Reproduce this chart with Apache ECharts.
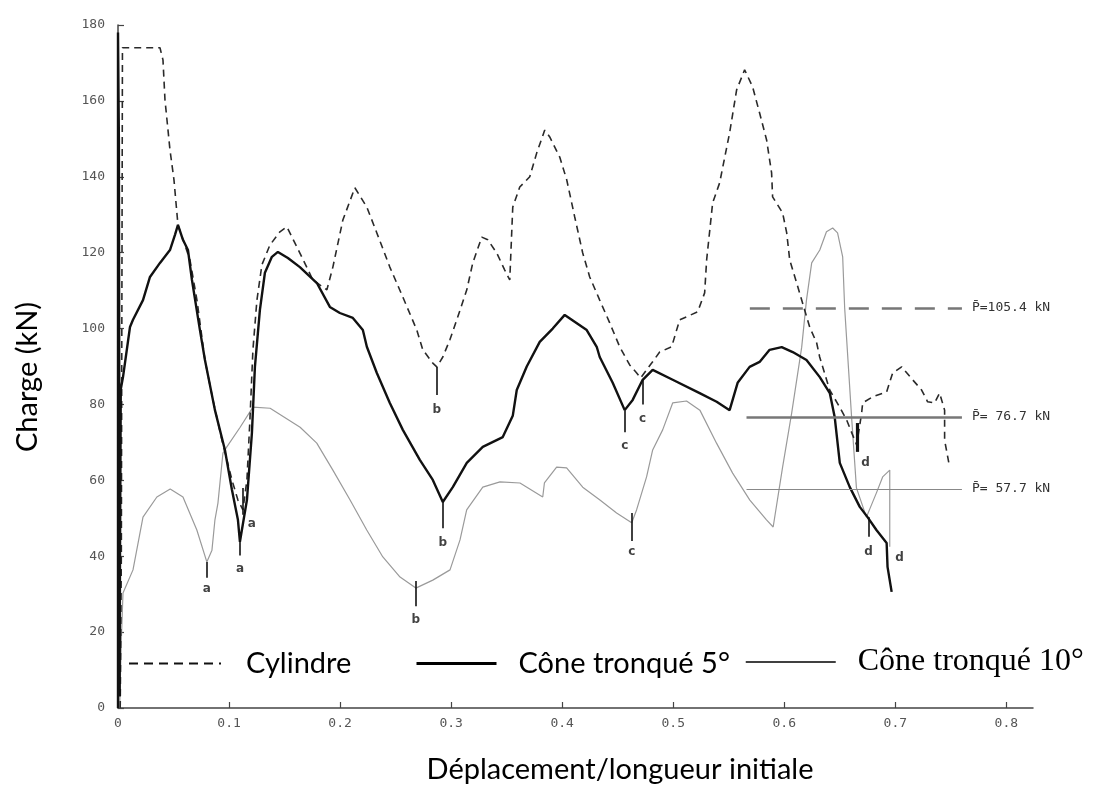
<!DOCTYPE html>
<html>
<head>
<meta charset="utf-8">
<script src="https://cdn.jsdelivr.net/npm/echarts@6/dist/echarts.min.js"></script>
<style>
  html, body { margin: 0; padding: 0; background: #fff; }
  #chart { width: 1099px; height: 785px; }
</style>
</head>
<body>
<div id="chart"></div>
<script>
// Charge en fonction du déplacement relatif pour trois géométries de tube
const seriesNames = ['Cylindre', 'Cône tronqué 5°', 'Cône tronqué 10°'];
const xTicks = [0, 0.1, 0.2, 0.3, 0.4, 0.5, 0.6, 0.7, 0.8];
const yMax = 180;
const yStep = 20;

// [déplacement/longueur initiale, charge kN]
const cylindre = [
  [0.002, 0], [0.003, 40], [0.004, 174], [0.0378, 174], [0.0405, 170.8], [0.0423, 160.3],
  [0.0468, 147.1], [0.0504, 139.2], [0.054, 127.3], [0.0648, 118.1], [0.0711, 107.5],
  [0.0783, 91.7], [0.0855, 81.2], [0.0936, 70.6], [0.1026, 60.1], [0.108, 54.8],
  [0.1125, 52.2], [0.1161, 60.1], [0.1188, 75.9], [0.1215, 94.4], [0.1251, 107.5],
  [0.1296, 116.8], [0.1368, 122], [0.1458, 125.5], [0.1521, 126.8], [0.1638, 119.9],
  [0.1755, 112.8], [0.1881, 110.2], [0.1935, 116.2], [0.2025, 128.6], [0.2133, 137.1],
  [0.2241, 132], [0.2331, 125.2], [0.2448, 116.2], [0.2565, 108.3], [0.2691, 99.6],
  [0.2745, 94.4], [0.2835, 90.9], [0.2871, 89.9], [0.2925, 92.5], [0.2988, 97],
  [0.3051, 102.3], [0.3141, 110.2], [0.3195, 117.3], [0.3276, 124.1], [0.333, 123.4],
  [0.3411, 119.9], [0.3483, 115.4], [0.3528, 112.8], [0.3555, 132], [0.3618, 137.3],
  [0.3708, 140], [0.3771, 146.3], [0.3843, 152.3], [0.3888, 150.5], [0.3978, 145.2],
  [0.4041, 139.2], [0.4113, 129.4], [0.4185, 119.9], [0.4248, 113.6], [0.4338, 107.5],
  [0.4428, 101.5], [0.4518, 95.2], [0.4608, 90.4], [0.4671, 88.3], [0.4707, 87],
  [0.4806, 90.9], [0.4878, 93.8], [0.4986, 95.2], [0.5058, 102.3], [0.522, 104.4],
  [0.5283, 109.4], [0.5301, 118.1], [0.5355, 133.1], [0.5418, 138.4], [0.5508, 151.6],
  [0.5571, 162.9], [0.5643, 168.2], [0.5715, 163.7], [0.5778, 156.8], [0.5841, 149.7],
  [0.5886, 141], [0.5895, 134.7], [0.5985, 130.5], [0.6022, 125.2], [0.6049, 118.1],
  [0.6112, 112], [0.6157, 107.5], [0.6229, 100.4], [0.6292, 96.2], [0.6319, 92.5],
  [0.6409, 83.8], [0.6499, 79.3], [0.6562, 75.9], [0.6652, 69.3], [0.6697, 77.8],
  [0.6706, 80.4], [0.6796, 82], [0.6922, 83.3], [0.6976, 88.3], [0.7057, 89.9],
  [0.7156, 86.5], [0.7237, 83.8], [0.7291, 80.7], [0.7354, 80.4], [0.7399, 83],
  [0.7444, 78.5], [0.7444, 70.6], [0.7489, 63.5]
];

const cone5 = [
  [0, 0], [0, 178], [0.0008, 150], [0.0015, 3], [0.0018, 40], [0.0025, 84], [0.0045, 87.2],
  [0.0108, 100.4], [0.0135, 102.3], [0.0225, 107.5], [0.0288, 113.6], [0.0378, 117.3],
  [0.0468, 120.7], [0.0513, 124.7], [0.054, 127.3], [0.0585, 123.4], [0.063, 120.7],
  [0.0666, 112.8], [0.0738, 99.6], [0.0783, 91.7], [0.0873, 78.5], [0.0963, 68],
  [0.1026, 57.5], [0.108, 49.6], [0.1098, 43.8], [0.1161, 54.8], [0.1206, 72.5],
  [0.1233, 89.9], [0.1278, 104.9], [0.1323, 114.7], [0.1386, 118.9], [0.144, 120.2],
  [0.153, 118.6], [0.1638, 116.2], [0.1791, 112], [0.1908, 105.7], [0.1998, 104.1],
  [0.2115, 102.8], [0.2205, 99.6], [0.2241, 95.2], [0.2331, 88.3], [0.2448, 80.4],
  [0.2565, 73.3], [0.2718, 65.4], [0.2835, 60.1], [0.2925, 54.3], [0.3015, 58.2],
  [0.3141, 64.6], [0.3285, 68.8], [0.3465, 71.4], [0.3555, 77], [0.3591, 83.8],
  [0.3681, 90], [0.3798, 96.5], [0.3915, 100], [0.4023, 103.6], [0.4221, 99.6],
  [0.4311, 95.2], [0.4338, 92.5], [0.4455, 85.7], [0.4563, 78.5], [0.4635, 81.2],
  [0.4725, 86.5], [0.4815, 89.1], [0.4995, 86.5], [0.5238, 83], [0.5391, 80.7],
  [0.5508, 78.5], [0.558, 85.7], [0.5688, 89.9], [0.5778, 91.2], [0.5868, 94.4],
  [0.5977, 95.1], [0.6076, 93.8], [0.62, 91.7], [0.632, 87.2], [0.641, 83],
  [0.6454, 76.7], [0.65, 64.6], [0.659, 58.2], [0.668, 53], [0.675, 50.3],
  [0.683, 46.9], [0.6922, 43.5], [0.693, 37.2], [0.6967, 30.6]
];

const cone10 = [
  [0.0015, 0], [0.003, 18], [0.0045, 30.3], [0.0135, 36.4], [0.0225, 50.3], [0.035, 55.6],
  [0.047, 57.7], [0.0585, 55.6], [0.071, 46.9], [0.08, 38.5], [0.0846, 41.6], [0.0873, 49.6],
  [0.09, 54], [0.0945, 67.2], [0.098, 68.8], [0.11, 74], [0.1215, 79.3], [0.137, 79],
  [0.164, 74], [0.179, 69.8], [0.1935, 62.7], [0.209, 54.8], [0.224, 46.9], [0.2385, 39.8],
  [0.254, 34.5], [0.2682, 31.6], [0.2835, 33.7], [0.299, 36.4], [0.308, 44.3], [0.314, 52.2],
  [0.3285, 58.2], [0.344, 59.6], [0.362, 59.3], [0.3825, 55.6], [0.384, 59.3], [0.395, 63.5],
  [0.404, 63.3], [0.4185, 58.2], [0.434, 54.8], [0.449, 51.4], [0.4626, 48.8], [0.467, 52.2],
  [0.476, 60.9], [0.4815, 68], [0.4905, 73.3], [0.4995, 80.4], [0.512, 80.9], [0.524, 78.5],
  [0.539, 69.8], [0.5535, 61.9], [0.569, 54.8], [0.584, 49.6], [0.59, 47.7], [0.5985, 63.5],
  [0.6067, 77.8], [0.6157, 95.1], [0.62, 107.5], [0.6247, 117.3], [0.632, 120.7],
  [0.638, 125.5], [0.6436, 126.5], [0.648, 125.2], [0.6526, 118.9], [0.6544, 105.4],
  [0.6607, 76.4], [0.665, 58], [0.674, 50.3], [0.683, 56.7], [0.6886, 60.9], [0.695, 62.7],
  [0.695, 42.5]
];

// Charge moyenne P̄ (kN) et étendue horizontale de son trait
const meanLoads = [105.4, 76.7, 57.7];
const meanSpans = [[0.569, 0.76], [0.566, 0.76], [0.566, 0.76]];

// Repères de flambage : [lettre, x, haut du trait, bas du trait, x lettre, y lettre]
const cylindreMarks = [
  ['a', 0.1125, 58, 50.9, 0.1206, 48.6],
  ['b', 0.2871, 89.9, 82.5, 0.2871, 78.6],
  ['c', 0.4725, 86.5, 80, 0.4725, 76.2],
  ['d', 0.666, 75.1, 67.5, 0.6733, 64.6]
];
const cone5Marks = [
  ['a', 0.1098, 43.8, 40.2, 0.1098, 36.6],
  ['b', 0.2925, 54.3, 47.4, 0.2925, 43.6],
  ['c', 0.4563, 78.5, 72.7, 0.4563, 69.2],
  ['d', 0.676, 50.3, 45.1, 0.676, 41.2],
  ['d', null, null, null, 0.7039, 39.6]
];
const cone10Marks = [
  ['a', 0.08, 38.5, 34.3, 0.08, 31.4],
  ['b', 0.2682, 33.5, 26.8, 0.2682, 23.2],
  ['c', 0.4626, 51.4, 44, 0.4626, 41.2]
];

const meanStyles = [
  { color: '#777', width: 2.5, type: [20, 13] },
  { color: '#777', width: 2.5, type: 'solid' },
  { color: '#888', width: 1.2, type: 'solid' }
];

function meanLabel(v) {
  return 'P\u0304=' + (v >= 100 ? '' : ' ') + v.toFixed(1) + ' kN';
}

function markLines(idx, marks, heavyLetter) {
  const data = [[
    { coord: [meanSpans[idx][0], meanLoads[idx]], lineStyle: meanStyles[idx],
      label: { show: true, position: 'end', distance: 10, formatter: meanLabel(meanLoads[idx]),
               fontFamily: 'DejaVu Sans Mono', fontSize: 13, color: '#333' } },
    { coord: [meanSpans[idx][1], meanLoads[idx]] }
  ]];
  marks.filter(m => m[1] !== null).forEach(m => {
    data.push([
      { coord: [m[1], m[2]], lineStyle: { color: '#111', width: m[0] === heavyLetter ? 3.2 : 1.6, type: 'solid' },
        label: { show: false } },
      { coord: [m[1], m[3]] }
    ]);
  });
  return { silent: true, symbol: ['none', 'none'], animation: false, data };
}

const letterPoints = [].concat(cylindreMarks, cone5Marks, cone10Marks).map(m => [m[4], m[5], m[0]]);

const chart = echarts.init(document.getElementById('chart'), null, { renderer: 'canvas' });

const legendBase = {
  orient: 'horizontal',
  selectedMode: false,
  itemHeight: 14,
  itemStyle: { color: 'rgba(0,0,0,0)', borderColor: 'rgba(0,0,0,0)', borderWidth: 0 },
  padding: 0
};

chart.setOption({
  animation: false,
  backgroundColor: '#fff',
  grid: { left: 118, right: 66, top: 25, bottom: 77, containLabel: false },
  xAxis: {
    type: 'value',
    min: 0,
    max: 0.824,
    splitLine: { show: false },
    axisLine: { show: true, lineStyle: { color: '#444', width: 1.5 } },
    axisTick: { show: true, inside: true, length: 6, customValues: xTicks, lineStyle: { color: '#444', width: 1.2 } },
    axisLabel: {
      customValues: xTicks,
      formatter: v => (v === 0 ? '0' : v.toFixed(1)),
      fontFamily: 'DejaVu Sans Mono', fontSize: 13, color: '#555', margin: 9
    }
  },
  yAxis: {
    type: 'value',
    min: 0,
    max: yMax,
    interval: yStep,
    offset: 4,
    splitLine: { show: false },
    axisLine: { show: true, lineStyle: { color: '#444', width: 1.5 } },
    axisTick: { show: true, inside: true, length: 6, lineStyle: { color: '#444', width: 1.2 } },
    axisLabel: { fontFamily: 'DejaVu Sans Mono', fontSize: 13, color: '#555', margin: 9 }
  },
  legend: [
    Object.assign({}, legendBase, {
      data: [seriesNames[0]], left: 128, top: 649, itemWidth: 92,
      lineStyle: { color: '#111', width: 2, type: [9, 6] },
      textStyle: { fontFamily: 'Lato', fontSize: 29, color: '#000', padding: [0, 0, 0, 20] }
    }),
    Object.assign({}, legendBase, {
      data: [seriesNames[1]], left: 415, top: 649, itemWidth: 80,
      lineStyle: { color: '#000', width: 3, type: 'solid' },
      textStyle: { fontFamily: 'Lato', fontSize: 29, color: '#000', padding: [0, 0, 0, 17] }
    }),
    Object.assign({}, legendBase, {
      data: [seriesNames[2]], left: 745, top: 646, itemWidth: 90,
      lineStyle: { color: '#000', width: 1.5, type: 'solid' },
      textStyle: { fontFamily: 'Liberation Serif', fontSize: 32, color: '#000', padding: [0, 0, 0, 17] }
    })
  ],
  graphic: [
    { type: 'text', x: 28, y: 377, rotation: Math.PI / 2,
      style: { text: 'Charge (kN)', fontFamily: 'Lato', fontSize: 29, fill: '#000', align: 'center', verticalAlign: 'middle' } },
    { type: 'text', x: 620, y: 770,
      style: { text: 'Déplacement/longueur initiale', fontFamily: 'Lato', fontSize: 29, fill: '#000', align: 'center', verticalAlign: 'middle' } }
  ],
  series: [
    {
      name: seriesNames[0], type: 'line', data: cylindre, showSymbol: false, symbol: 'circle',
      lineStyle: { color: '#2a2a2a', width: 1.6, type: [7, 5] }, itemStyle: { color: '#2a2a2a' },
      z: 3, markLine: markLines(0, cylindreMarks, 'd')
    },
    {
      name: seriesNames[1], type: 'line', data: cone5, showSymbol: false, symbol: 'circle',
      lineStyle: { color: '#111', width: 2.4 }, itemStyle: { color: '#111' },
      z: 4, markLine: markLines(1, cone5Marks, null)
    },
    {
      name: seriesNames[2], type: 'line', data: cone10, showSymbol: false, symbol: 'circle',
      lineStyle: { color: '#9a9a9a', width: 1.2 }, itemStyle: { color: '#9a9a9a' },
      z: 2, markLine: markLines(2, cone10Marks, null)
    },
    {
      name: 'repères', type: 'scatter', data: letterPoints, symbolSize: 1, silent: true,
      itemStyle: { color: 'rgba(0,0,0,0)' }, z: 5,
      label: { show: true, position: 'inside', formatter: p => p.value[2],
               fontFamily: 'DejaVu Sans', fontWeight: 'bold', fontSize: 12, color: '#111' }
    }
  ]
});
</script>
</body>
</html>
